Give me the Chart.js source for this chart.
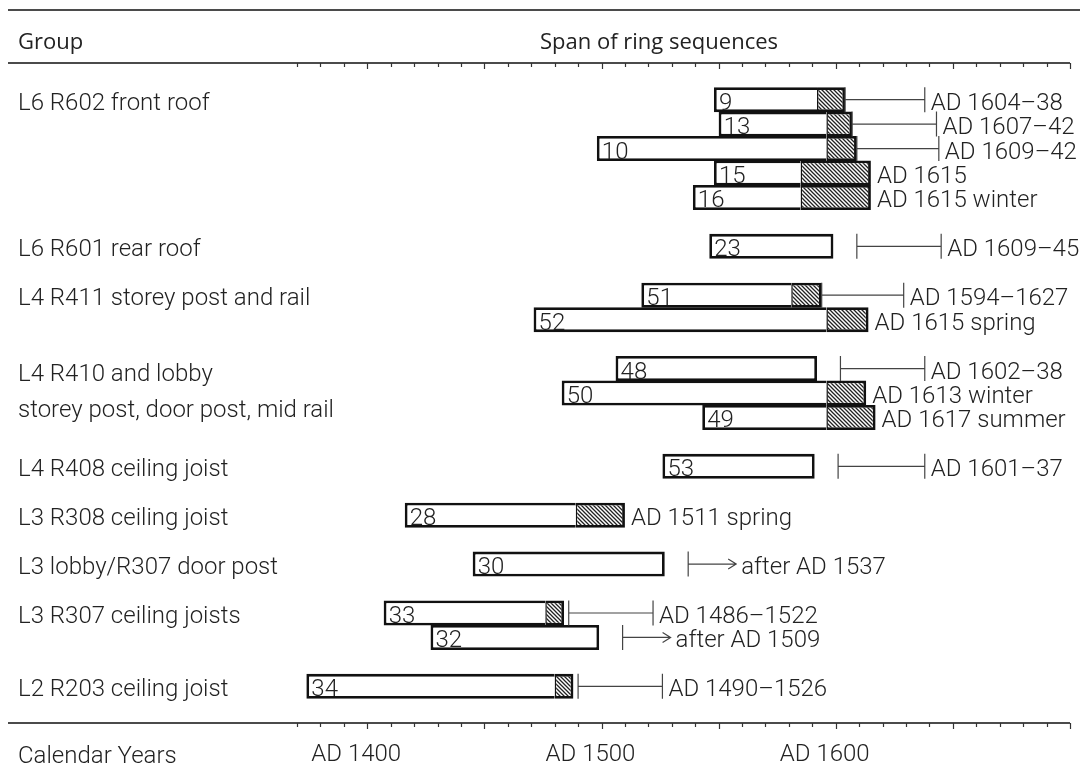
<!DOCTYPE html>
<html>
<head>
<meta charset="utf-8">
<title>Span of ring sequences</title>
<script src="https://cdn.jsdelivr.net/npm/chart.js@4.4.1/dist/chart.umd.min.js"></script>
<style>
	html, body { margin: 0; padding: 0; background: #fff; }
	#wrap { width: 1088px; height: 771px; }
</style>
</head>
<body>
<div id="wrap"><canvas id="ringChart" width="1088" height="771"></canvas></div>
<script>
// one entry per timber, top to bottom
var samples   = ['9', '13', '10', '15', '16', '23', '51', '52', '48', '50', '49', '53', '28', '30', '33', '32', '34'];
var rowSlot   = [1, 2, 3, 4, 5, 7, 9, 10, 12, 13, 14, 16, 18, 20, 22, 23, 25];
var firstRing = [1548, 1550, 1498, 1548, 1539, 1546, 1517, 1471, 1506, 1483, 1543, 1526, 1416, 1445, 1407, 1427, 1374];
var hsRing    = [1592, 1596, 1596, 1585, 1585, null, 1581, 1596, null, 1596, 1596, null, 1489, null, 1476, null, 1480];
var lastRing  = [1604, 1607, 1609, 1615, 1615, 1599, 1594, 1614, 1592, 1613, 1617, 1591, 1510, 1527, 1484, 1499, 1488];
var fellFrom  = [1604, 1607, 1609, null, null, 1609, 1594, null, 1602, null, null, 1601, null, null, 1486, null, 1490];
var fellTo    = [1638, 1643, 1644, null, null, 1645, 1629, null, 1638, null, null, 1638, null, null, 1522, null, 1526];
var fellAfter = [null, null, null, null, null, null, null, null, null, null, null, null, null, 1537, null, 1509, null];
var dateText  = ['AD 1604–38', 'AD 1607–42', 'AD 1609–42', 'AD 1615', 'AD 1615 winter', 'AD 1609–45',
	'AD 1594–1627', 'AD 1615 spring', 'AD 1602–38', 'AD 1613 winter', 'AD 1617 summer', 'AD 1601–37',
	'AD 1511 spring', 'after AD 1537', 'AD 1486–1522', 'after AD 1509', 'AD 1490–1526'];

var groupNames = [
	['L6 R602 front roof'],
	['L6 R601 rear roof'],
	['L4 R411 storey post and rail'],
	['L4 R410 and lobby', 'storey post, door post, mid rail'],
	['L4 R408 ceiling joist'],
	['L3 R308 ceiling joist'],
	['L3 lobby/R307 door post'],
	['L3 R307 ceiling joists'],
	['L2 R203 ceiling joist']
];
var groupRow = [1, 7, 9, 13, 16, 18, 20, 22, 25];

var axisYears = [1400, 1500, 1600];
var yearMin = 1370, yearMax = 1700;

var FAMILY = 'Roboto, Lato, "Open Sans", sans-serif';
var FONT = '300 24px ' + FAMILY;
var INK = '#222';
var BAR_H = 25;
var EDGE = 2.8;

function makeHatch() {
	var s = 4;
	var cv = document.createElement('canvas');
	cv.width = s; cv.height = s;
	var g = cv.getContext('2d');
	g.fillStyle = '#fff';
	g.fillRect(0, 0, s, s);
	g.strokeStyle = '#222';
	g.lineWidth = 1.3;
	g.beginPath();
	g.moveTo(-1, -1); g.lineTo(s + 1, s + 1);
	g.moveTo(-1, s - 1); g.lineTo(1, s + 1);
	g.moveTo(s - 1, -1); g.lineTo(s + 1, 1);
	g.stroke();
	return g.createPattern(cv, 'repeat');
}

var heartData = samples.map(function(s, i) {
	return { x: [firstRing[i], hsRing[i] != null ? hsRing[i] : lastRing[i]], y: rowSlot[i] };
});
var sapData = [];
samples.forEach(function(s, i) {
	if (hsRing[i] != null) sapData.push({ x: [hsRing[i], lastRing[i]], y: rowSlot[i] });
});

var ringDecor = {
	id: 'ringDecor',
	afterDraw: function(chart) {
		var c = chart.ctx, xs = chart.scales.x, ys = chart.scales.y, a = chart.chartArea;
		c.save();

		// rules
		c.strokeStyle = '#111';
		c.lineWidth = 1.5;
		c.beginPath();
		c.moveTo(8, 10); c.lineTo(1080, 10);
		c.moveTo(8, a.top); c.lineTo(a.right, a.top);
		c.moveTo(8, a.bottom); c.lineTo(a.right, a.bottom);
		c.stroke();

		// year ticks under both rules
		c.strokeStyle = '#333';
		c.lineWidth = 1.2;
		c.beginPath();
		for (var yr = yearMin; yr <= yearMax; yr += 10) {
			var px = Math.round(xs.getPixelForValue(yr)) + 0.5;
			var len = (yr % 50 === 0) ? 6 : 4;
			c.moveTo(px, a.top); c.lineTo(px, a.top + len);
			c.moveTo(px, a.bottom); c.lineTo(px, a.bottom + len);
		}
		c.stroke();

		c.font = FONT;
		c.fillStyle = INK;
		c.textBaseline = 'alphabetic';

		samples.forEach(function(s, i) {
			var cy = ys.getPixelForValue(rowSlot[i]);
			var half = BAR_H / 2;
			var labelX;
			c.strokeStyle = '#444';
			c.lineWidth = 1.2;
			if (fellFrom[i] != null) {
				var x0 = xs.getPixelForValue(fellFrom[i]);
				var x1 = xs.getPixelForValue(fellTo[i]);
				c.beginPath();
				c.moveTo(x0, cy); c.lineTo(x1, cy);
				c.moveTo(x0, cy - half); c.lineTo(x0, cy + half);
				c.moveTo(x1, cy - half); c.lineTo(x1, cy + half);
				c.stroke();
				labelX = x1 + 6;
			} else if (fellAfter[i] != null) {
				var ax = xs.getPixelForValue(fellAfter[i]);
				var tip = ax + 48;
				c.beginPath();
				c.moveTo(ax, cy - half); c.lineTo(ax, cy + half);
				c.moveTo(ax, cy); c.lineTo(tip, cy);
				c.moveTo(tip - 8, cy - 5); c.lineTo(tip, cy); c.lineTo(tip - 8, cy + 5);
				c.stroke();
				labelX = tip + 5;
			} else {
				labelX = xs.getPixelForValue(lastRing[i]) + 6;
			}
			c.textAlign = 'left';
			c.fillText(dateText[i], labelX, cy + 10);
			c.fillText(s, xs.getPixelForValue(firstRing[i]) + 5, cy + 10);
		});

		// group names
		groupNames.forEach(function(lines, g) {
			var cy = ys.getPixelForValue(groupRow[g]);
			if (lines.length === 1) {
				c.fillText(lines[0], 18, cy + 10);
			} else {
				c.fillText(lines[0], 18, cy - 12.5);
				c.fillText(lines[1], 18, cy + 23.5);
			}
		});

		c.fillText('Calendar Years', 18, 763);

		c.font = '22px "Open Sans", sans-serif';
		c.textBaseline = 'middle';
		c.fillText('Group', 18, 43);
		c.fillText('Span of ring sequences', 540, 43);
		c.restore();
	}
};

var hatch = makeHatch();

new Chart(document.getElementById('ringChart'), {
	type: 'bar',
	data: {
		datasets: [{
			label: 'sapwood',
			data: sapData,
			grouped: false,
			backgroundColor: hatch,
			borderColor: '#111',
			borderWidth: { top: EDGE, bottom: EDGE, left: 1.5, right: EDGE },
			borderSkipped: false,
			barThickness: BAR_H,
			inflateAmount: 0
		}, {
			label: 'heartwood',
			data: heartData,
			grouped: false,
			backgroundColor: '#fff',
			borderColor: '#111',
			borderWidth: function(ctx) {
				var hasSap = hsRing[ctx.dataIndex] != null;
				return { top: EDGE, bottom: EDGE, left: EDGE, right: hasSap ? 0 : EDGE };
			},
			borderSkipped: false,
			barThickness: BAR_H,
			inflateAmount: 0
		}]
	},
	options: {
		responsive: false,
		animation: false,
		indexAxis: 'y',
		layout: { padding: { left: 297, right: 17, top: 63, bottom: 0 } },
		scales: {
			x: {
				type: 'linear',
				position: 'bottom',
				min: yearMin,
				max: yearMax,
				grid: { display: false, drawTicks: false },
				border: { display: false },
				afterFit: function(s) { s.height = 48; },
				ticks: {
					stepSize: 10,
					autoSkip: false,
					maxRotation: 0,
					padding: 18,
					labelOffset: -11,
					color: INK,
					font: { family: FAMILY, size: 24, weight: '300' },
					callback: function(v) { return axisYears.indexOf(v) >= 0 ? 'AD ' + v : ''; }
				}
			},
			y: {
				type: 'linear',
				min: -0.5,
				max: 26.5,
				reverse: true,
				offset: false,
				display: false
			}
		},
		plugins: {
			legend: { display: false },
			tooltip: { enabled: false }
		}
	},
	plugins: [ringDecor]
});
</script>
</body>
</html>
